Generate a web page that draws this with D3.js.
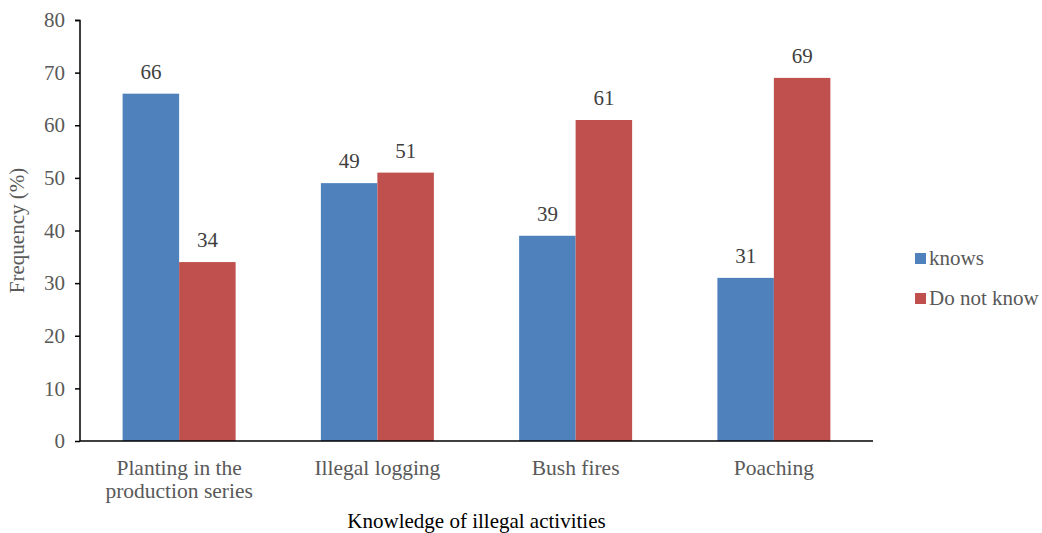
<!DOCTYPE html>
<html lang="en">
<head>
    <meta charset="UTF-8">
    <title>Knowledge of illegal activities</title>
    <script src="https://d3js.org/d3.v7.min.js"></script>
    <style>
        body { margin: 0; background: white; }
        svg, svg text { font-family: 'Liberation Serif', 'Times New Roman', serif; }
        .axis text { fill: #595959; font-size: 21px; }
    </style>
</head>
<body>
    <div id="chart"></div>
    <script>
        // Data
        const categories = [["Planting in the", "production series"], ["Illegal logging"], ["Bush fires"], ["Poaching"]];
        const seriesNames = ["knows", "Do not know"];
        const knows = [66, 49, 39, 31];
        const doNotKnow = [34, 51, 61, 69];
        const yTicks = [0, 10, 20, 30, 40, 50, 60, 70, 80];
        const colors = ["#4f81bd", "#c0504d"];

        const W = 1042, H = 533;
        const margin = {top: 20, right: 169, bottom: 92, left: 80};
        const width = W - margin.left - margin.right;
        const height = H - margin.top - margin.bottom;

        const svg = d3.select("#chart").append("svg")
            .attr("width", W).attr("height", H);
        const g = svg.append("g").attr("transform", `translate(${margin.left},${margin.top})`);

        const x = d3.scaleBand().domain(d3.range(categories.length)).range([0, width]);
        const inner = d3.scaleBand().domain([0, 1]).range([0, 113]);
        const y = d3.scaleLinear().domain([0, 80]).range([height, 0]);

        const data = categories.map((c, i) => ({i, vals: [knows[i], doNotKnow[i]]}));

        const groups = g.selectAll(".grp").data(data).enter().append("g")
            .attr("transform", d => `translate(${x(d.i) + x.bandwidth() / 2 - 56.5},0)`);

        groups.selectAll("rect").data(d => d.vals).enter().append("rect")
            .attr("x", (v, j) => inner(j))
            .attr("width", inner.bandwidth())
            .attr("y", v => y(v))
            .attr("height", v => height - y(v))
            .attr("fill", (v, j) => colors[j]);

        groups.selectAll(".lbl").data(d => d.vals).enter().append("text")
            .attr("x", (v, j) => inner(j) + inner.bandwidth() / 2)
            .attr("y", v => y(v) - 15)
            .attr("text-anchor", "middle")
            .attr("fill", "#404040")
            .attr("font-size", "21px")
            .text(v => v);

        // Y axis
        const yAxis = g.append("g").attr("class", "axis")
            .call(d3.axisLeft(y).tickValues(yTicks).tickSize(5).tickPadding(10));
        yAxis.attr("font-family", null).attr("font-size", null);
        yAxis.selectAll(".tick text")
            .style("font-family", "'Liberation Serif', 'Times New Roman', serif")
            .style("font-size", "21px")
            .style("fill", "#595959");
        yAxis.select(".domain").attr("stroke", "#000").attr("stroke-width", 1.5)
            .attr("d", `M-5,0.5H0V${height}`);
        yAxis.selectAll(".tick line").attr("stroke", "#000").attr("stroke-width", 1.5);

        // X axis
        g.append("line")
            .attr("x1", 0).attr("x2", width)
            .attr("y1", height).attr("y2", height)
            .attr("stroke", "#000").attr("stroke-width", 1.5);

        // Category labels
        const cat = g.selectAll(".cat").data(categories).enter().append("text")
            .attr("text-anchor", "middle")
            .attr("fill", "#595959")
            .attr("font-size", "21.5px")
            .attr("transform", (d, i) => `translate(${x(i) + x.bandwidth() / 2},${height + 34})`);
        cat.selectAll("tspan").data(d => d).enter().append("tspan")
            .attr("x", 0).attr("dy", (d, k) => k === 0 ? 0 : 23)
            .text(d => d);

        // Axis titles
        svg.append("text")
            .attr("x", margin.left + width / 2).attr("y", 528)
            .attr("text-anchor", "middle").attr("fill", "#000").attr("font-size", "21px")
            .text("Knowledge of illegal activities");

        svg.append("text")
            .attr("transform", `translate(24,${margin.top + height / 2}) rotate(-90)`)
            .attr("text-anchor", "middle").attr("fill", "#595959").attr("font-size", "21px")
            .text("Frequency (%)");

        // Legend
        const legend = svg.append("g").attr("transform", "translate(915,253)");
        const li = legend.selectAll("g").data(seriesNames).enter().append("g")
            .attr("transform", (d, i) => `translate(0,${i * 40})`);
        li.append("rect").attr("width", 11).attr("height", 11).attr("fill", (d, i) => colors[i]);
        li.append("text").attr("x", 14).attr("y", 12)
            .attr("fill", "#595959").attr("font-size", "21px")
            .text(d => d);
    </script>
</body>
</html>
